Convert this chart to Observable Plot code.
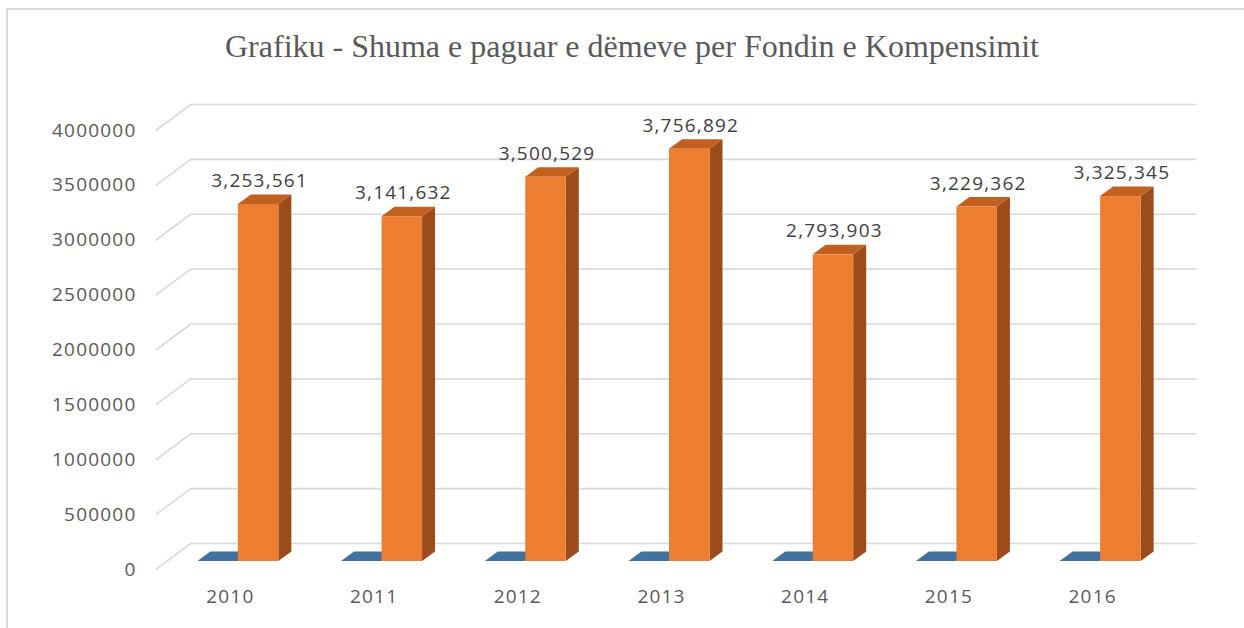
<!DOCTYPE html>
<html>
<head>
<meta charset="utf-8">
<script src="https://cdn.jsdelivr.net/npm/d3@7"></script>
<script src="https://cdn.jsdelivr.net/npm/@observablehq/plot@0.6"></script>
<style>
  html, body { margin: 0; padding: 0; background: #fff; }
  #wrap { position: relative; width: 1244px; height: 628px; overflow: hidden; background: #fff; }
  #frame { position: absolute; left: 6px; top: 8px; width: 1300px; height: 700px;
           border-top: 2px solid #d9d9d9; border-left: 2px solid #d9d9d9; }
  #title { position: absolute; left: 10px; top: 1px; width: 1244px; height: 80px; text-align: center;
           font-family: "Liberation Serif", "DejaVu Serif", serif; font-size: 32px; color: #595959;
           line-height: 90px; white-space: nowrap; }
  #chart { position: absolute; left: 0; top: 80px; }
</style>
</head>
<body>
<div id="wrap">
  <div id="frame"></div>
  <div id="title">Grafiku - Shuma e paguar e dëmeve per Fondin e Kompensimit</div>
  <div id="chart"></div>
</div>
<script>
// ---- data ----
const years = ["2010", "2011", "2012", "2013", "2014", "2015", "2016"];
const orangeValues = [3253561, 3141632, 3500529, 3756892, 2793903, 3229362, 3325345];
const blueValues = [0, 0, 0, 0, 0, 0, 0];
const yTicks = [0, 500000, 1000000, 1500000, 2000000, 2500000, 3000000, 3500000, 4000000];

// ---- layout ----
const W = 1244, H = 548;
const mt = 42, mb = 67, ml = 166, mr = 72;
const xDomain = [-0.5, 6.5];
const yDomain = [0, 4000000];
const pxX = (W - ml - mr) / (xDomain[1] - xDomain[0]);   // px per category unit
const pxY = (H - mt - mb) / (yDomain[1] - yDomain[0]);   // px per value unit

// 3D offsets expressed in data units
const barW = 40.5 / pxX;
const dX = 13 / pxX, dY = 9.5 / pxY;             // bar depth
const wallDX = 24.3 / pxX, wallDY = 18 / pxY;    // back wall
const frontDX = -10.8 / pxX, frontDY = -8 / pxY; // front edge of side wall

const rows = years.map((y, i) => ({i, year: y, orange: orangeValues[i], blue: blueValues[i]}));

// orange front faces
const fronts = rows.map(r => ({i: r.i, x1: r.i, x2: r.i + barW, v: r.orange}));
// side faces (parallelograms as areas)
const sides = rows.flatMap(r => {
  const xr = r.i + barW;
  return [
    {k: r.i, x: xr, y1: 0, y2: r.orange},
    {k: r.i, x: xr + dX, y1: dY, y2: r.orange + dY}
  ];
});
// top faces
function topFace(k, xl, xr, v) {
  return [
    {k, x: xl, y1: v, y2: v},
    {k, x: xl + dX, y1: v, y2: v + dY},
    {k, x: xr, y1: v, y2: v + dY},
    {k, x: xr + dX, y1: v + dY, y2: v + dY}
  ];
}
const orangeTops = rows.flatMap(r => topFace(r.i, r.i, r.i + barW, r.orange));
const blueTops = rows.flatMap(r => topFace(r.i, r.i - barW, r.i, r.blue));

const fontLabel = "'Open Sans', Lato, sans-serif";

const chart = Plot.plot({
  width: W, height: H,
  marginTop: mt, marginBottom: mb, marginLeft: ml, marginRight: mr,
  style: {fontFamily: fontLabel, letterSpacing: "1.2px", background: "transparent", overflow: "visible"},
  x: {type: "linear", domain: xDomain},
  y: {domain: yDomain},
  marks: [
    // back wall gridlines
    Plot.ruleY(yTicks, {y: d => d + wallDY, x1: xDomain[0] + wallDX, x2: xDomain[1] + wallDX,
      stroke: "#d9d9d9", strokeWidth: 1.6}),
    // side wall gridlines
    Plot.link(yTicks, {x1: xDomain[0] + frontDX, y1: d => d + frontDY,
      x2: xDomain[0] + wallDX, y2: d => d + wallDY, stroke: "#d9d9d9", strokeWidth: 1.6}),
    // blue (flat) bars
    Plot.areaY(blueTops, {x: "x", y1: "y1", y2: "y2", z: "k", fill: "#41719C"}),
    // orange side faces
    Plot.areaY(sides, {x: "x", y1: "y1", y2: "y2", z: "k", fill: "#9C4B1A"}),
    // orange top faces
    Plot.areaY(orangeTops, {x: "x", y1: "y1", y2: "y2", z: "k", fill: "#C2601F"}),
    // orange front faces
    Plot.rectY(fronts, {x1: "x1", x2: "x2", y1: 0, y2: "v", fill: "#ED7D31"}),
    // data labels
    Plot.text(rows, {x: d => d.i + barW / 2, y: d => d.orange + dY, dy: -14, dx: 1,
      text: d => d3.format(",")(d.orange), fontSize: 19, fill: "#404040"}),
    // axes
    Plot.axisY(yTicks, {tickSize: 0, tickPadding: 30, dy: 8, tickFormat: d3.format("d"),
      fontSize: 19, color: "#595959", label: null}),
    Plot.axisX(d3.range(years.length), {tickSize: 0, tickPadding: 28, dx: -8,
      tickFormat: i => years[i], fontSize: 19, color: "#595959", label: null})
  ]
});
document.getElementById("chart").appendChild(chart);
</script>
</body>
</html>
